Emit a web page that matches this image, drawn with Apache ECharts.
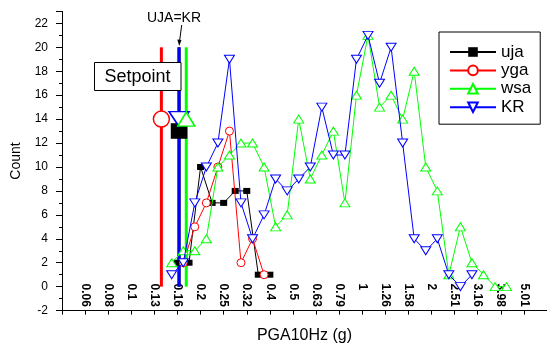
<!DOCTYPE html>
<html>
<head>
<meta charset="utf-8">
<script src="https://cdn.jsdelivr.net/npm/echarts@6/dist/echarts.min.js"></script>
<style>
  html, body { margin: 0; padding: 0; background: #fff; }
  #main { width: 547px; height: 344px; }
</style>
</head>
<body>
<div id="main"></div>
<script>
// x positions are log10(PGA in g) of the bin centres
var binLogA = [-0.825, -0.775, -0.725, -0.675, -0.625, -0.575, -0.525, -0.475, -0.425, -0.375,
               -0.325, -0.275, -0.225, -0.175, -0.125, -0.075, -0.025, 0.025, 0.075, 0.125,
               0.175, 0.225, 0.275, 0.325, 0.375, 0.425, 0.475, 0.525, 0.575, 0.625];
var binLogB = [-0.8, -0.75, -0.7, -0.65, -0.6, -0.55, -0.5, -0.45, -0.4];

var ujaCount = [2, 2, 10, 7, 7, 8, 8, 1, 1];                       // on binLogB
var ygaCount = [null, 2, 5, 7, 10, 13, 2, 4, 1];                   // on binLogA
var wsaCount = [2, 3, 3, 4, 10, 11, 12, 12, 10, 5, 6, 14, 9, 11, 13, 7, 16, 21, 15, 16,
                14, 18, 10, 8, 1, 5, 2, 1, 0, 0];                  // on binLogA
var krCount = [1, 2, 7, 10, 12, 19, 7, 4, 6, 9, 8, 9, 10, 15, 11, 11, 19, 21, 17, 20,
               12, 4, 3, 4, 1, 0, 1];                              // on binLogA

// setpoints (g) and the count where the marker sits
var gauges = ['uja', 'yga', 'wsa', 'KR'];
var setpointPGA = [0.161, 0.135, 0.173, 0.161];
var setpointCount = [13, 14, 14, 14];
var setpointTop = 20;

// tick labels for log10 = -1.2 ... 0.7
var tickLabels = ['0.06', '0.08', '0.1', '0.13', '0.16', '0.2', '0.25', '0.32', '0.4', '0.5',
                  '0.63', '0.79', '1', '1.26', '1.58', '2', '2.51', '3.16', '3.98', '5.01'];

var FONT = 'Liberation Sans, Arial, sans-serif';

function pairs(xs, ys) {
    var out = [];
    for (var i = 0; i < ys.length; i++) {
        if (ys[i] != null) out.push([xs[i], ys[i]]);
    }
    return out;
}

var colors = {uja: '#000000', yga: '#ff0000', wsa: '#00ff00', KR: '#0000ff'};

var chart = echarts.init(document.getElementById('main'));

var series = [];

// setpoint vertical lines (uja first so KR's blue covers it)
[0, 1, 2, 3].forEach(function (i) {
    var x = Math.log10(setpointPGA[i]);
    series.push({
        name: gauges[i] + ' setpoint',
        type: 'line',
        data: [[x, 0], [x, setpointTop]],
        symbol: 'none',
        silent: true,
        lineStyle: {color: colors[gauges[i]], width: 3},
        z: 1
    });
});

series.push({
    name: 'uja', type: 'line',
    data: pairs(binLogB, ujaCount),
    symbol: 'rect', symbolSize: [7, 6], showAllSymbol: true,
    lineStyle: {color: '#000', width: 1},
    itemStyle: {color: '#000'},
    z: 2
});
series.push({
    name: 'yga', type: 'line',
    data: pairs(binLogA, ygaCount),
    symbol: 'circle', symbolSize: 8, showAllSymbol: true,
    lineStyle: {color: '#ff0000', width: 1},
    itemStyle: {color: '#fff', borderColor: '#ff0000', borderWidth: 1},
    z: 3
});
series.push({
    name: 'wsa', type: 'line',
    data: pairs(binLogA, wsaCount),
    symbol: 'triangle', symbolSize: [10, 8], showAllSymbol: true,
    lineStyle: {color: colors.wsa, width: 1},
    itemStyle: {color: '#fff', borderColor: colors.wsa, borderWidth: 1},
    z: 4
});
series.push({
    name: 'KR', type: 'line',
    data: pairs(binLogA, krCount),
    symbol: 'triangle', symbolRotate: 180, symbolSize: [10, 8], showAllSymbol: true,
    lineStyle: {color: '#0000ff', width: 1},
    itemStyle: {color: '#fff', borderColor: '#0000ff', borderWidth: 1},
    z: 5
});

// big setpoint markers
var bigSym = {
    uja: {symbol: 'rect', size: [15, 14], rot: 0, fill: '#000'},
    yga: {symbol: 'circle', size: 16, rot: 0, fill: '#fff'},
    wsa: {symbol: 'triangle', size: [17, 14], rot: 0, fill: '#fff'},
    KR: {symbol: 'triangle', size: [20, 15], rot: 180, fill: '#fff'}
};
[0, 1, 3, 2].forEach(function (i) {
    var g = gauges[i], s = bigSym[g];
    series.push({
        name: g + ' marker', type: 'scatter',
        data: [[Math.log10(setpointPGA[i]), setpointCount[i]]],
        symbol: s.symbol, symbolSize: s.size, symbolRotate: s.rot,
        silent: true,
        itemStyle: {color: s.fill, borderColor: colors[g], borderWidth: 1.5, opacity: 1},
        z: 6
    });
});

var option = {
    animation: false,
    textStyle: {fontFamily: FONT},
    grid: {left: 62, right: 0, top: 11.4, bottom: 33.4, outerBoundsMode: 'none', containLabel: false},
    legend: {
        data: gauges,
        orient: 'vertical',
        left: 439, top: 32,
        borderColor: '#000', borderWidth: 1,
        padding: [11, 9, 8, 10],
        itemWidth: 46, itemHeight: 12, itemGap: 0.4,
        textStyle: {fontSize: 17, lineHeight: 18, color: '#000', fontFamily: FONT}
    },
    xAxis: {
        type: 'value',
        min: -1.3, max: 0.8, interval: 0.1,
        name: 'PGA10Hz (g)',
        nameLocation: 'middle', nameGap: 17,
        nameTextStyle: {fontSize: 16, color: '#000', fontFamily: FONT},
        axisLine: {onZero: false, lineStyle: {color: '#000', width: 1}},
        axisTick: {length: 4, lineStyle: {color: '#000'}},
        splitLine: {show: false},
        axisLabel: {
            inside: true, rotate: -90, margin: 27, align: 'left',
            fontSize: 12, fontWeight: 'bold', color: '#000', fontFamily: FONT,
            formatter: function (v) {
                var i = Math.round((v + 1.2) * 10);
                return tickLabels[i] || '';
            }
        }
    },
    yAxis: {
        type: 'value',
        min: -2, max: 23, interval: 2,
        name: 'Count',
        nameLocation: 'middle', nameGap: 39,
        nameTextStyle: {fontSize: 14, color: '#000', fontFamily: FONT},
        axisLine: {show: true, onZero: false, lineStyle: {color: '#000', width: 1}},
        axisTick: {show: true, length: 6, lineStyle: {color: '#000'}},
        minorTick: {show: true, splitNumber: 2, length: 3, lineStyle: {color: '#000'}},
        splitLine: {show: false},
        axisLabel: {
            fontSize: 12, color: '#000', margin: 14, fontFamily: FONT,
            formatter: function (v) { return v > 22 ? '' : String(v); }
        }
    },
    graphic: [
        {
            type: 'rect', z: 100,
            shape: {x: 94.5, y: 62.5, width: 86.5, height: 28},
            style: {fill: '#fff', stroke: '#000', lineWidth: 1}
        },
        {
            type: 'text', z: 101, x: 137.5, y: 77,
            style: {text: 'Setpoint', fill: '#000', font: '18px ' + FONT,
                    textAlign: 'center', textVerticalAlign: 'middle'}
        },
        {
            type: 'text', z: 101, x: 174, y: 18.5,
            style: {text: 'UJA=KR', fill: '#000', font: '14px ' + FONT,
                    textAlign: 'center', textVerticalAlign: 'middle'}
        },
        {
            type: 'line', z: 101,
            shape: {x1: 181.7, y1: 25, x2: 179.6, y2: 41},
            style: {stroke: '#000', lineWidth: 1}
        },
        {
            type: 'polygon', z: 101,
            shape: {points: [[177.3, 39.5], [181.5, 40], [179.2, 46]]},
            style: {fill: '#000'}
        }
    ],
    series: series
};

chart.setOption(option);
</script>
</body>
</html>
